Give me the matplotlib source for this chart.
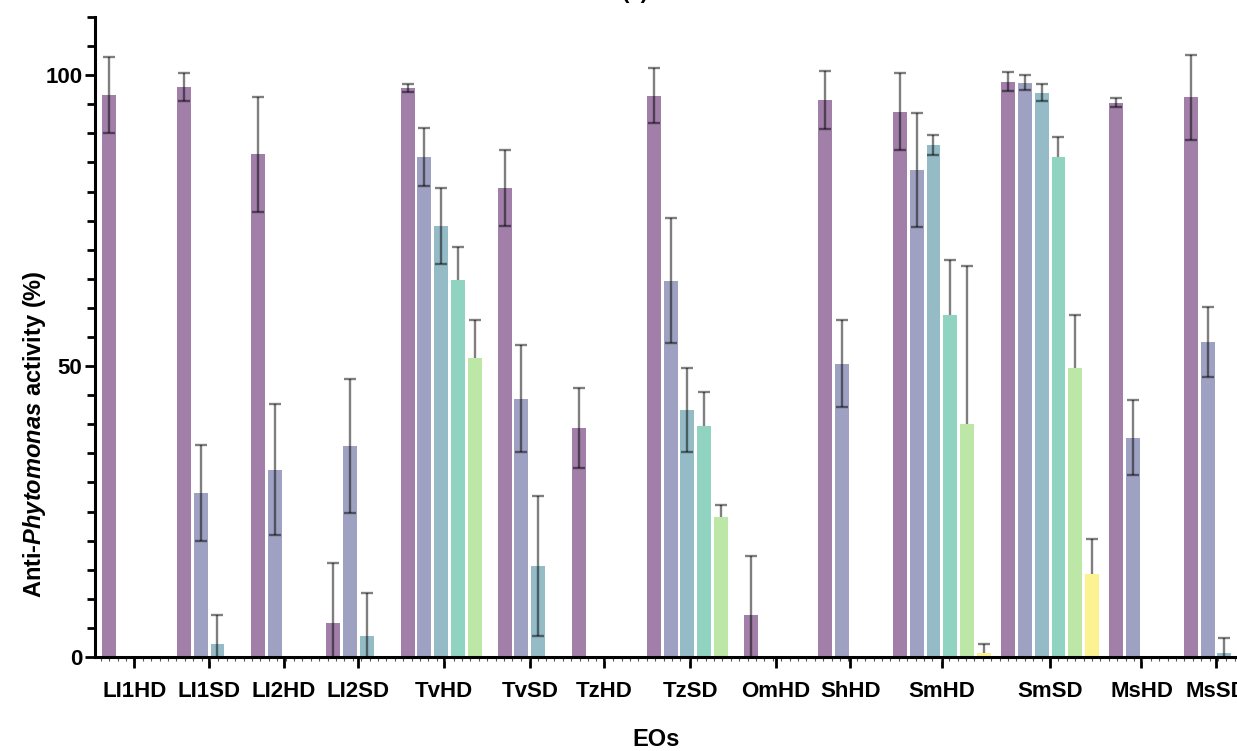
import numpy as np
import matplotlib
matplotlib.use("Agg")
import matplotlib.pyplot as plt
from matplotlib.ticker import MultipleLocator, FixedLocator

plt.rcParams["font.family"] = ["Liberation Sans", "DejaVu Sans"]
plt.rcParams["font.weight"] = "bold"
plt.rcParams["mathtext.fontset"] = "custom"
plt.rcParams["mathtext.bfit"] = "Liberation Sans:italic:bold"
plt.rcParams["mathtext.rm"] = "Liberation Sans:bold"

nan = np.nan

# essential oils (x groups)
eos = ["LI1HD", "LI1SD", "LI2HD", "LI2SD", "TvHD", "TvSD", "TzHD",
       "TzSD", "OmHD", "ShHD", "SmHD", "SmSD", "MsHD", "MsSD"]

# mean activity (%) per concentration, highest to lowest, NaN = not shown
conc1 = [96.6, 97.9, 86.4, 5.9, 97.8, 80.6, 39.4, 96.5, 7.2, 95.8, 93.7, 98.9, 95.3, 96.2]
conc2 = [nan, 28.2, 32.2, 36.3, 86.0, 44.4, nan, 64.7, nan, 50.4, 83.7, 98.7, 37.7, 54.1]
conc3 = [nan, 2.2, nan, 3.6, 74.1, 15.6, nan, 42.4, nan, nan, 88.0, 97.0, nan, 0.7]
conc4 = [nan, nan, nan, nan, 64.8, nan, nan, 39.7, nan, nan, 58.8, 85.9, nan, nan]
conc5 = [nan, nan, nan, nan, 51.4, nan, nan, 24.1, nan, nan, 40.0, 49.6, nan, nan]
conc6 = [nan, nan, nan, nan, nan, nan, nan, nan, nan, nan, 0.7, 14.3, nan, nan]

# standard deviations
sd1 = [6.6, 2.4, 9.9, 10.3, 0.7, 6.6, 6.9, 4.8, 10.2, 5.0, 6.6, 1.7, 0.7, 7.3]
sd2 = [nan, 8.2, 11.2, 11.5, 5.0, 9.2, nan, 10.7, nan, 7.5, 9.8, 1.3, 6.4, 6.0]
sd3 = [nan, 5.0, nan, 7.4, 6.5, 12.0, nan, 7.2, nan, nan, 1.8, 1.4, nan, 2.6]
sd4 = [nan, nan, nan, nan, 5.7, nan, nan, 5.9, nan, nan, 9.5, 3.5, nan, nan]
sd5 = [nan, nan, nan, nan, 6.5, nan, nan, 2.1, nan, nan, 27.2, 9.2, nan, nan]
sd6 = [nan, nan, nan, nan, nan, nan, nan, nan, nan, nan, 1.6, 6.0, nan, nan]

means = [conc1, conc2, conc3, conc4, conc5, conc6]
sds = [sd1, sd2, sd3, sd4, sd5, sd6]

# layout: slots taken by each group on the axis
group_width = np.array([4, 4, 4, 4, 5.33, 4, 4, 5.33, 4, 4, 6, 6, 4, 4])
gap = 0.44
starts = np.concatenate([[0], np.cumsum(group_width + gap)[:-1]])
centers = starts + (group_width - 1) / 2

colors = plt.cm.viridis(np.linspace(0, 1, 6))

W, H = 1237, 751
fig = plt.figure(figsize=(W / 100, H / 100), dpi=100)
ax = fig.add_axes([95 / W, 1 - 657 / H, (W - 95) / W, (657 - 17) / H])

err_c = (0, 0, 0, 0.5)
for j, (m, s) in enumerate(zip(means, sds)):
    m = np.array(m, dtype=float)
    s = np.array(s, dtype=float)
    ok = ~np.isnan(m)
    x = starts[ok] + j
    y = m[ok]
    e = s[ok]
    ax.bar(x, y, width=0.83, color=colors[j], alpha=0.5, linewidth=0, zorder=2)
    # lighter bars only show the upper half of the error bar
    low = y - e if j < 3 else y
    ax.vlines(x, low, y + e, colors=[err_c], linewidth=1.7, zorder=3)
    ax.plot(x, y + e, ls="none", marker="_", ms=8, mew=1.7, color=err_c, zorder=3)
    if j < 3:
        ax.plot(x, y - e, ls="none", marker="_", ms=8, mew=1.7, color=err_c, zorder=3)

ax.set_xlim(-0.85, -0.85 + (W - 95) / 16.8)
ax.set_ylim(0, 110)

for side in ["top", "right"]:
    ax.spines[side].set_visible(False)
for side in ["left", "bottom"]:
    ax.spines[side].set_linewidth(2.2)
    ax.spines[side].set_zorder(4)

ax.yaxis.set_major_locator(FixedLocator([0, 50, 100]))
ax.yaxis.set_minor_locator(MultipleLocator(5))
ax.tick_params(axis="y", which="major", length=7, width=2, labelsize=16, pad=2)
ax.tick_params(axis="y", which="minor", length=6, width=2)

ax.set_xticks(centers)
ax.set_xticklabels(eos)
ax.xaxis.set_minor_locator(MultipleLocator(0.5))
ax.tick_params(axis="x", which="major", length=8, width=2, labelsize=16, pad=9)
ax.tick_params(axis="x", which="minor", length=3, width=0.8, color="#555555")
for lab in ax.get_xticklabels() + ax.get_yticklabels():
    lab.set_fontweight("bold")

fig.text(35 / W, 1 - 434 / H, r"Anti-$\mathbfit{Phytomonas}$ activity (%)",
         rotation=90, ha="center", va="center", fontsize=17, fontweight="bold")
fig.text(656 / W, 1 - 740 / H, "EOs", ha="center", va="center",
         fontsize=17, fontweight="bold")
fig.text(635 / W, 1 - 3 / H, "(a)", ha="center", va="bottom",
         fontsize=16, fontweight="bold")

fig.savefig("out.png", dpi=100)
